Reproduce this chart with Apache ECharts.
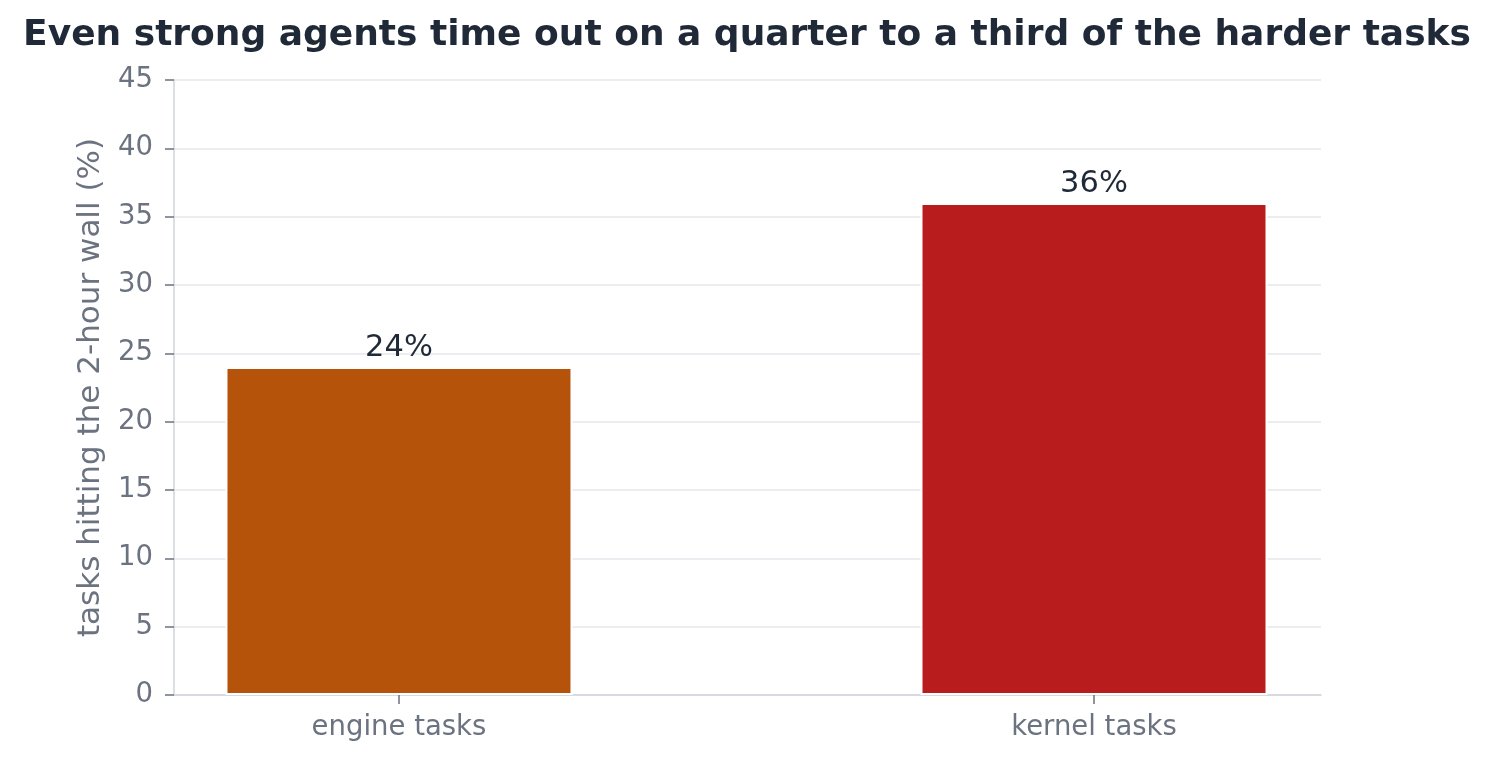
<!DOCTYPE html>
<html lang="en">
<head>
<meta charset="UTF-8">
<title>Timeouts</title>
<script src="https://cdn.jsdelivr.net/npm/echarts@6/dist/echarts.min.js"></script>
<style>
    html, body { margin: 0; width: 100%; height: 100%; background: #fff; }
    #chart { width: 1494px; height: 763px; }
</style>
</head>
<body>
<div id="chart"></div>
<script>
    // data
    const categories = ['engine tasks', 'kernel tasks'];
    const timeoutPct = [24, 36];
    const barColors = ['#b45309', '#b91c1c'];

    const chart = echarts.init(document.getElementById('chart'));
    const font = 'DejaVu Sans';
    const catIdx = categories.map((c, i) => i);

    const option = {
        backgroundColor: '#ffffff',
        animation: false,
        title: {
            text: 'Even strong agents time out on a quarter to a third of the harder tasks',
            left: 'center',
            top: 13,
            textStyle: { fontFamily: font, fontSize: 36, fontWeight: 'bold', color: '#1f2937' }
        },
        grid: { left: 174, right: 173, top: 80, bottom: 68 },
        // categories placed on a numeric axis so the side padding matches
        xAxis: {
            type: 'value',
            min: -0.3237,
            max: 1.3266,
            splitLine: { show: false },
            axisLine: { show: true, onZero: false, lineStyle: { color: '#d1d5db', width: 1.5 } },
            axisTick: { show: true, customValues: catIdx, length: 9, lineStyle: { color: '#6b7280', width: 1.5 } },
            axisLabel: {
                customValues: catIdx,
                formatter: v => categories[Math.round(v)] || '',
                fontFamily: font, fontSize: 27.5, color: '#6b7280', margin: 19
            }
        },
        yAxis: {
            type: 'value',
            min: 0,
            max: 45,
            interval: 5,
            name: 'tasks hitting the 2-hour wall (%)',
            nameLocation: 'middle',
            nameGap: 68,
            nameTextStyle: { fontFamily: font, fontSize: 31, color: '#6b7280' },
            axisLine: { show: true, onZero: false, lineStyle: { color: '#d1d5db', width: 1.5 } },
            axisTick: { show: true, length: 9, lineStyle: { color: '#6b7280', width: 1.5 } },
            axisLabel: { fontFamily: font, fontSize: 27.5, color: '#6b7280', margin: 21 },
            splitLine: { lineStyle: { color: '#e5e7eb', width: 1.5 } }
        },
        series: [{
            type: 'bar',
            barWidth: 347,
            data: timeoutPct.map((v, i) => ({ value: [i, v], itemStyle: { color: barColors[i] } })),
            itemStyle: { borderColor: '#ffffff', borderWidth: 2 },
            label: {
                show: true,
                position: 'top',
                distance: 3,
                formatter: p => p.value[1] + '%',
                fontFamily: font,
                fontSize: 30.5,
                color: '#1f2937'
            }
        }]
    };

    chart.setOption(option);
</script>
</body>
</html>
